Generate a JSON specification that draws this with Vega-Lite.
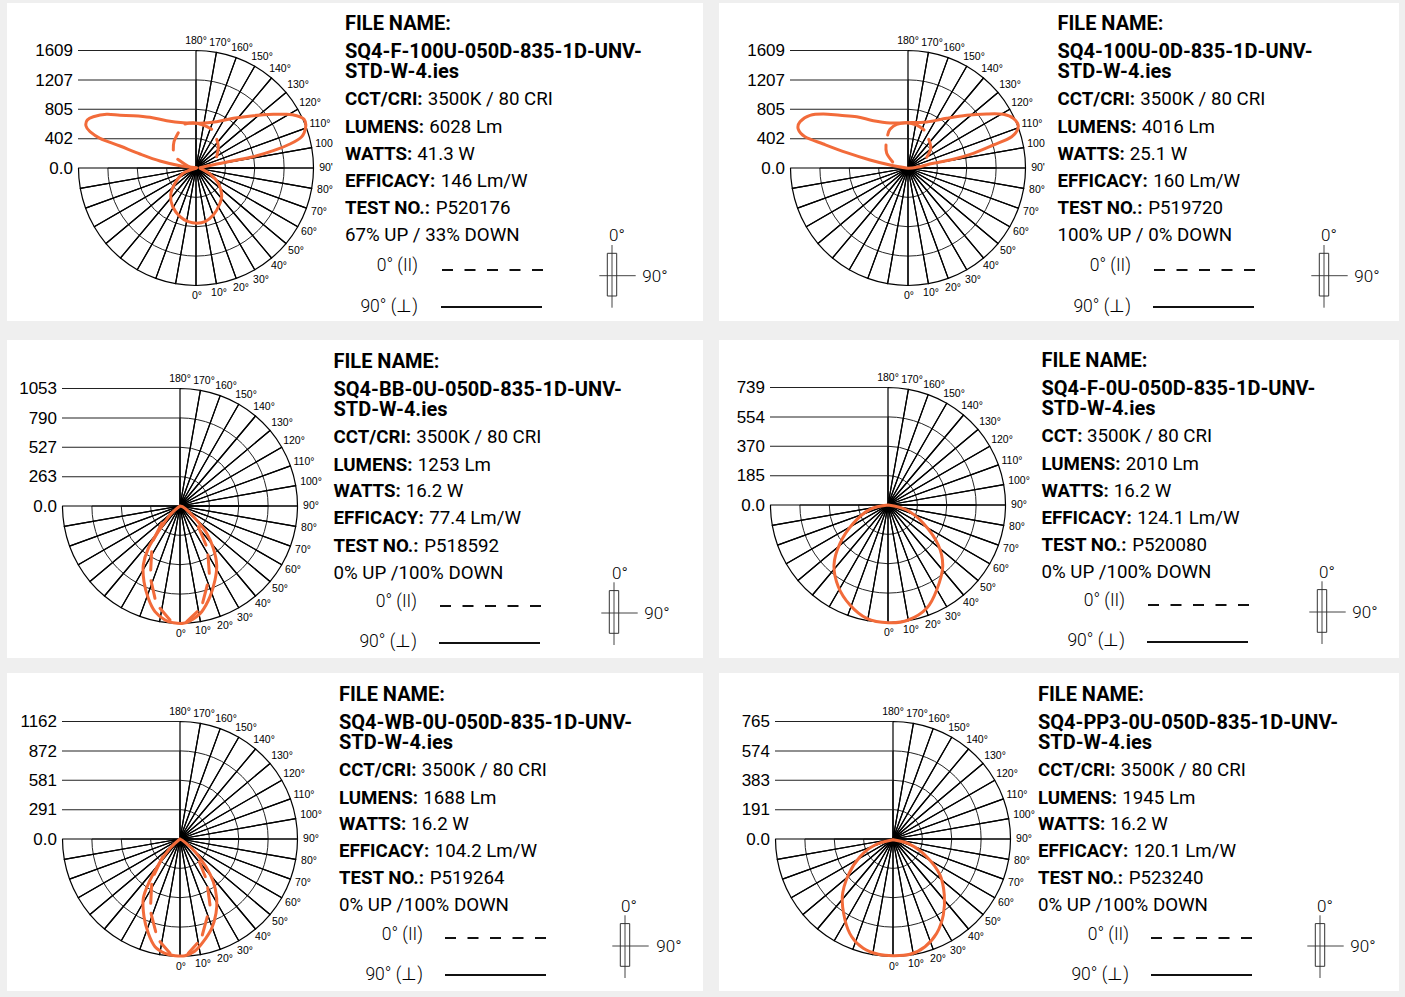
{"$schema":"https://vega.github.io/schema/vega-lite/v6.json","background":"#efefef","padding":{"left":7,"top":3,"right":6,"bottom":6},
"config":{"view":{"fill":"white","stroke":null},"axis":{"disable":true},"style":{
"head":{"font":"Roboto","fontSize":20,"fontWeight":700,"align":"left","baseline":"alphabetic","fill":"#111"},
"label":{"font":"Roboto","fontSize":18.7,"fontWeight":700,"align":"left","baseline":"alphabetic","fill":"#111"},
"value":{"font":"Roboto","fontSize":18.7,"fontWeight":400,"align":"left","baseline":"alphabetic","fill":"#222"},
"legendtext":{"font":"Roboto","fontSize":17.5,"fontWeight":300,"align":"right","baseline":"alphabetic","fill":"#444","dy":-1},
"symtext":{"font":"Roboto","fontSize":17,"fontWeight":300,"align":"center","baseline":"alphabetic","fill":"#444"},
"level":{"font":"Liberation Sans","fontSize":17,"align":"right","baseline":"middle","fill":"#111","dy":0.5},
"angle":{"font":"Liberation Sans","fontSize":10.5,"align":"center","baseline":"middle","fill":"#333"}}},
"datasets":{
"rings":[{"x":0,"y":0,"a":-90,"a2":90,"r":1},{"x":0,"y":0,"a":-90,"a2":90,"r":2},{"x":0,"y":0,"a":-90,"a2":90,"r":3},{"x":0,"y":0,"a":90,"a2":180,"r":1},{"x":0,"y":0,"a":90,"a2":180,"r":2},{"x":0,"y":0,"a":90,"a2":180,"r":3}],
"spokes":[{"x":0,"y":0,"a":-90,"a2":-80,"r":4},{"x":0,"y":0,"a":-80,"a2":-70,"r":4},{"x":0,"y":0,"a":-70,"a2":-60,"r":4},{"x":0,"y":0,"a":-60,"a2":-50,"r":4},{"x":0,"y":0,"a":-50,"a2":-40,"r":4},{"x":0,"y":0,"a":-40,"a2":-30,"r":4},{"x":0,"y":0,"a":-30,"a2":-20,"r":4},{"x":0,"y":0,"a":-20,"a2":-10,"r":4},{"x":0,"y":0,"a":-10,"a2":0,"r":4},{"x":0,"y":0,"a":0,"a2":10,"r":4},{"x":0,"y":0,"a":10,"a2":20,"r":4},{"x":0,"y":0,"a":20,"a2":30,"r":4},{"x":0,"y":0,"a":30,"a2":40,"r":4},{"x":0,"y":0,"a":40,"a2":50,"r":4},{"x":0,"y":0,"a":50,"a2":60,"r":4},{"x":0,"y":0,"a":60,"a2":70,"r":4},{"x":0,"y":0,"a":70,"a2":80,"r":4},{"x":0,"y":0,"a":80,"a2":90,"r":4},{"x":0,"y":0,"a":90,"a2":100,"r":4},{"x":0,"y":0,"a":100,"a2":110,"r":4},{"x":0,"y":0,"a":110,"a2":120,"r":4},{"x":0,"y":0,"a":120,"a2":130,"r":4},{"x":0,"y":0,"a":130,"a2":140,"r":4},{"x":0,"y":0,"a":140,"a2":150,"r":4},{"x":0,"y":0,"a":150,"a2":160,"r":4},{"x":0,"y":0,"a":160,"a2":170,"r":4},{"x":0,"y":0,"a":170,"a2":180,"r":4}],
"levels":[{"x":-118,"x2":0,"y":-117.5},{"x":-118,"x2":0,"y":-88},{"x":-118,"x2":0,"y":-58.7},{"x":-118,"x2":0,"y":-29.3}],
"angles":[{"x":0,"y":-127,"text":"180°","set":"all"},{"x":24,"y":-125,"text":"170°","set":"all"},{"x":46,"y":-120,"text":"160°","set":"all"},{"x":66,"y":-111,"text":"150°","set":"all"},{"x":84,"y":-99,"text":"140°","set":"all"},{"x":102,"y":-83,"text":"130°","set":"all"},{"x":114,"y":-65,"text":"120°","set":"all"},{"x":124,"y":-44,"text":"110°","set":"all"},{"x":128,"y":-24,"text":"100","set":"clip"},{"x":131,"y":-24,"text":"100°","set":"full"},{"x":130,"y":0,"text":"90'","set":"clip"},{"x":131,"y":0,"text":"90°","set":"full"},{"x":129,"y":22,"text":"80°","set":"all"},{"x":123,"y":44,"text":"70°","set":"all"},{"x":113,"y":64,"text":"60°","set":"all"},{"x":100,"y":83,"text":"50°","set":"all"},{"x":83,"y":98,"text":"40°","set":"all"},{"x":65,"y":112,"text":"30°","set":"all"},{"x":45,"y":120,"text":"20°","set":"all"},{"x":23,"y":125,"text":"10°","set":"all"},{"x":1,"y":128,"text":"0°","set":"all"}],
"p1":[
{"role":"level","x":-123,"y":-117.5,"text":"1609"},{"role":"level","x":-123,"y":-88,"text":"1207"},{"role":"level","x":-123,"y":-58.7,"text":"805"},{"role":"level","x":-123,"y":-29.3,"text":"402"},{"role":"level","x":-123,"y":0,"text":"0.0"},
{"role":"head","x":149,"y":-138,"text":"FILE NAME:"},{"role":"head","x":149,"y":-110,"text":"SQ4-F-100U-050D-835-1D-UNV-"},{"role":"head","x":149,"y":-90,"text":"STD-W-4.ies"},
{"role":"label","x":149,"y":-63,"text":"CCT/CRI:"},{"role":"value","x":231.7,"y":-63,"text":"3500K / 80 CRI"},
{"role":"label","x":149,"y":-35,"text":"LUMENS:"},{"role":"value","x":233.3,"y":-35,"text":"6028 Lm"},
{"role":"label","x":149,"y":-8,"text":"WATTS:"},{"role":"value","x":221.3,"y":-8,"text":"41.3 W"},
{"role":"label","x":149,"y":19,"text":"EFFICACY:"},{"role":"value","x":244.7,"y":19,"text":"146 Lm/W"},
{"role":"label","x":149,"y":46,"text":"TEST NO.:"},{"role":"value","x":239.7,"y":46,"text":"P520176"},
{"role":"value","x":149,"y":73,"text":"67% UP / 33% DOWN"},
{"role":"legend","x":222,"y":104,"text":"0° (II)"},{"role":"legend","x":222,"y":145,"text":"90° (⊥)"},{"role":"sym","x":421,"y":72.7,"text":"0°"},{"role":"sym","x":459,"y":113.7,"text":"90°"},
{"role":"r0","x":246,"x2":347,"y":102,"y2":102},{"role":"r90","x":245,"x2":346,"y":139,"y2":139},{"role":"cross","x":416,"x2":416,"y":77,"y2":139.7},{"role":"cross","x":403.3,"x2":439.7,"y":107.7,"y2":107.7},{"role":"box","x":411.3,"x2":420.7,"y":85.3,"y2":128},
{"role":"solid","s":"a","i":0,"x":0.7,"y":-0.3},{"role":"solid","s":"a","i":1,"x":-16,"y":-2.3},{"role":"solid","s":"a","i":2,"x":-36,"y":-7},{"role":"solid","s":"a","i":3,"x":-56,"y":-14},{"role":"solid","s":"a","i":4,"x":-76,"y":-22},{"role":"solid","s":"a","i":5,"x":-96,"y":-29.7},{"role":"solid","s":"a","i":6,"x":-106,"y":-36.3},{"role":"solid","s":"a","i":7,"x":-110,"y":-42},{"role":"solid","s":"a","i":8,"x":-108.7,"y":-48},{"role":"solid","s":"a","i":9,"x":-102.7,"y":-51.3},{"role":"solid","s":"a","i":10,"x":-89.3,"y":-53.7},{"role":"solid","s":"a","i":11,"x":-76,"y":-52.7},{"role":"solid","s":"a","i":12,"x":-62.7,"y":-52.3},{"role":"solid","s":"a","i":13,"x":-46,"y":-50.7},{"role":"solid","s":"a","i":14,"x":-29.3,"y":-47.3},{"role":"solid","s":"a","i":15,"x":-12.7,"y":-45.3},{"role":"solid","s":"a","i":16,"x":4,"y":-44.7},{"role":"solid","s":"a","i":17,"x":20.7,"y":-46.3},{"role":"solid","s":"a","i":18,"x":37.3,"y":-49.7},{"role":"solid","s":"a","i":19,"x":57.3,"y":-52.3},{"role":"solid","s":"a","i":20,"x":77.3,"y":-53.7},{"role":"solid","s":"a","i":21,"x":90.7,"y":-53.7},{"role":"solid","s":"a","i":22,"x":100.7,"y":-52.3},{"role":"solid","s":"a","i":23,"x":108,"y":-48.7},{"role":"solid","s":"a","i":24,"x":109.7,"y":-41.3},{"role":"solid","s":"a","i":25,"x":105.7,"y":-31.3},{"role":"solid","s":"a","i":26,"x":94,"y":-24},{"role":"solid","s":"a","i":27,"x":77.3,"y":-17.3},{"role":"solid","s":"a","i":28,"x":57.3,"y":-11.3},{"role":"solid","s":"a","i":29,"x":37.3,"y":-7.3},{"role":"solid","s":"a","i":30,"x":20.7,"y":-4},{"role":"solid","s":"a","i":31,"x":4,"y":-0.3},
{"role":"solid","s":"b","i":0,"x":0,"y":0.3},{"role":"solid","s":"b","i":1,"x":-12.7,"y":5.3},{"role":"solid","s":"b","i":2,"x":-21,"y":15.3},{"role":"solid","s":"b","i":3,"x":-25.3,"y":27},{"role":"solid","s":"b","i":4,"x":-23.3,"y":38.7},{"role":"solid","s":"b","i":5,"x":-16,"y":48.7},{"role":"solid","s":"b","i":6,"x":-7.7,"y":53.7},{"role":"solid","s":"b","i":7,"x":0.7,"y":55.3},{"role":"solid","s":"b","i":8,"x":9,"y":53.7},{"role":"solid","s":"b","i":9,"x":17.3,"y":47},{"role":"solid","s":"b","i":10,"x":23.3,"y":37},{"role":"solid","s":"b","i":11,"x":25.7,"y":27},{"role":"solid","s":"b","i":12,"x":22.3,"y":15.3},{"role":"solid","s":"b","i":13,"x":14,"y":6},{"role":"solid","s":"b","i":14,"x":4.3,"y":0.3},
{"role":"dash","s":"a","i":0,"x":15.7,"y":-38.7},{"role":"dash","s":"a","i":1,"x":7.3,"y":-43},{"role":"dash","s":"a","i":2,"x":-2.7,"y":-45.3},{"role":"dash","s":"a","i":3,"x":-11,"y":-44},
{"role":"dash","s":"b","i":0,"x":-17.7,"y":-35.3},{"role":"dash","s":"b","i":1,"x":-22,"y":-26.3},{"role":"dash","s":"b","i":2,"x":-22.7,"y":-18},
{"role":"dash","s":"c","i":0,"x":-18.3,"y":-8.7},{"role":"dash","s":"c","i":1,"x":-11,"y":-3.7},{"role":"dash","s":"c","i":2,"x":-4.3,"y":0.3},
{"role":"dash","s":"d","i":0,"x":20.7,"y":-28.7},{"role":"dash","s":"d","i":1,"x":22.3,"y":-21.3},{"role":"dash","s":"d","i":2,"x":20.7,"y":-11.3}],
"p2":[
{"role":"level","x":-123,"y":-117.5,"text":"1609"},{"role":"level","x":-123,"y":-88,"text":"1207"},{"role":"level","x":-123,"y":-58.7,"text":"805"},{"role":"level","x":-123,"y":-29.3,"text":"402"},{"role":"level","x":-123,"y":0,"text":"0.0"},
{"role":"head","x":149.5,"y":-138,"text":"FILE NAME:"},{"role":"head","x":149.5,"y":-110,"text":"SQ4-100U-0D-835-1D-UNV-"},{"role":"head","x":149.5,"y":-90,"text":"STD-W-4.ies"},
{"role":"label","x":149.5,"y":-63,"text":"CCT/CRI:"},{"role":"value","x":232.2,"y":-63,"text":"3500K / 80 CRI"},
{"role":"label","x":149.5,"y":-35,"text":"LUMENS:"},{"role":"value","x":233.8,"y":-35,"text":"4016 Lm"},
{"role":"label","x":149.5,"y":-8,"text":"WATTS:"},{"role":"value","x":221.8,"y":-8,"text":"25.1 W"},
{"role":"label","x":149.5,"y":19,"text":"EFFICACY:"},{"role":"value","x":245.2,"y":19,"text":"160 Lm/W"},
{"role":"label","x":149.5,"y":46,"text":"TEST NO.:"},{"role":"value","x":240.2,"y":46,"text":"P519720"},
{"role":"value","x":149.5,"y":73,"text":"100% UP / 0% DOWN"},
{"role":"legend","x":223,"y":104,"text":"0° (II)"},{"role":"legend","x":223,"y":145,"text":"90° (⊥)"},{"role":"sym","x":421,"y":72.7,"text":"0°"},{"role":"sym","x":459,"y":113.7,"text":"90°"},
{"role":"r0","x":246,"x2":347,"y":102,"y2":102},{"role":"r90","x":245,"x2":346,"y":139,"y2":139},{"role":"cross","x":416,"x2":416,"y":77,"y2":139.7},{"role":"cross","x":403.3,"x2":439.7,"y":107.7,"y2":107.7},{"role":"box","x":411.3,"x2":420.7,"y":85.3,"y2":128},
{"role":"solid","s":"a","i":0,"x":0,"y":0.3},{"role":"solid","s":"a","i":1,"x":-18,"y":-3},{"role":"solid","s":"a","i":2,"x":-38,"y":-8},{"role":"solid","s":"a","i":3,"x":-61.3,"y":-15.3},{"role":"solid","s":"a","i":4,"x":-84.7,"y":-24},{"role":"solid","s":"a","i":5,"x":-103,"y":-31.3},{"role":"solid","s":"a","i":6,"x":-109.7,"y":-38.7},{"role":"solid","s":"a","i":7,"x":-108,"y":-46.3},{"role":"solid","s":"a","i":8,"x":-98,"y":-52.7},{"role":"solid","s":"a","i":9,"x":-84.7,"y":-54},{"role":"solid","s":"a","i":10,"x":-68,"y":-52.7},{"role":"solid","s":"a","i":11,"x":-51.3,"y":-51.3},{"role":"solid","s":"a","i":12,"x":-34.7,"y":-47.3},{"role":"solid","s":"a","i":13,"x":-18,"y":-45},{"role":"solid","s":"a","i":14,"x":-1.3,"y":-45.3},{"role":"solid","s":"a","i":15,"x":18.7,"y":-46},{"role":"solid","s":"a","i":16,"x":38.7,"y":-49.7},{"role":"solid","s":"a","i":17,"x":58.7,"y":-52.7},{"role":"solid","s":"a","i":18,"x":78.7,"y":-54},{"role":"solid","s":"a","i":19,"x":95.3,"y":-53.7},{"role":"solid","s":"a","i":20,"x":105.3,"y":-49.7},{"role":"solid","s":"a","i":21,"x":110.3,"y":-41.3},{"role":"solid","s":"a","i":22,"x":103.7,"y":-31.3},{"role":"solid","s":"a","i":23,"x":85.3,"y":-23},{"role":"solid","s":"a","i":24,"x":65.3,"y":-14.7},{"role":"solid","s":"a","i":25,"x":45.3,"y":-8.7},{"role":"solid","s":"a","i":26,"x":25.3,"y":-4.7},{"role":"solid","s":"a","i":27,"x":8.7,"y":-0.7},{"role":"solid","s":"a","i":28,"x":0,"y":0.3},
{"role":"dash","s":"a","i":0,"x":16,"y":-38},{"role":"dash","s":"a","i":1,"x":8.7,"y":-43},{"role":"dash","s":"a","i":2,"x":-1.3,"y":-45.3},{"role":"dash","s":"a","i":3,"x":-11.3,"y":-43.7},{"role":"dash","s":"a","i":4,"x":-18,"y":-38.7},{"role":"dash","s":"a","i":5,"x":-20.3,"y":-33},
{"role":"dash","s":"b","i":0,"x":-22,"y":-23},{"role":"dash","s":"b","i":1,"x":-21.3,"y":-14.7},{"role":"dash","s":"b","i":2,"x":-15.3,"y":-6},
{"role":"dash","s":"c","i":0,"x":20.7,"y":-28.7},{"role":"dash","s":"c","i":1,"x":22.7,"y":-19.7},{"role":"dash","s":"c","i":2,"x":18.7,"y":-10.7}],
"p3":[
{"role":"level","x":-123,"y":-117.5,"text":"1053"},{"role":"level","x":-123,"y":-88,"text":"790"},{"role":"level","x":-123,"y":-58.7,"text":"527"},{"role":"level","x":-123,"y":-29.3,"text":"263"},{"role":"level","x":-123,"y":0,"text":"0.0"},
{"role":"head","x":153.5,"y":-138,"text":"FILE NAME:"},{"role":"head","x":153.5,"y":-110,"text":"SQ4-BB-0U-050D-835-1D-UNV-"},{"role":"head","x":153.5,"y":-90,"text":"STD-W-4.ies"},
{"role":"label","x":153.5,"y":-63,"text":"CCT/CRI:"},{"role":"value","x":236.2,"y":-63,"text":"3500K / 80 CRI"},
{"role":"label","x":153.5,"y":-35,"text":"LUMENS:"},{"role":"value","x":237.8,"y":-35,"text":"1253 Lm"},
{"role":"label","x":153.5,"y":-9,"text":"WATTS:"},{"role":"value","x":225.8,"y":-9,"text":"16.2 W"},
{"role":"label","x":153.5,"y":18,"text":"EFFICACY:"},{"role":"value","x":249.2,"y":18,"text":"77.4 Lm/W"},
{"role":"label","x":153.5,"y":46,"text":"TEST NO.:"},{"role":"value","x":244.2,"y":46,"text":"P518592"},
{"role":"value","x":153.5,"y":73,"text":"0% UP /100% DOWN"},
{"role":"legend","x":237,"y":102,"text":"0° (II)"},{"role":"legend","x":237,"y":142,"text":"90° (⊥)"},{"role":"sym","x":440,"y":73,"text":"0°"},{"role":"sym","x":477,"y":113,"text":"90°"},
{"role":"r0","x":260,"x2":362,"y":100,"y2":100},{"role":"r90","x":259,"x2":360,"y":137,"y2":137},{"role":"cross","x":434,"x2":434,"y":76.3,"y2":139},{"role":"cross","x":421.3,"x2":457.7,"y":107,"y2":107},{"role":"box","x":429.3,"x2":438.7,"y":84.6,"y2":127.3},
{"role":"solid","s":"a","i":0,"x":0,"y":0},{"role":"solid","s":"a","i":1,"x":-10,"y":9},{"role":"solid","s":"a","i":2,"x":-21.7,"y":25.7},{"role":"solid","s":"a","i":3,"x":-31.7,"y":42.3},{"role":"solid","s":"a","i":4,"x":-36.7,"y":59},{"role":"solid","s":"a","i":5,"x":-36,"y":75.7},{"role":"solid","s":"a","i":6,"x":-31.7,"y":92.3},{"role":"solid","s":"a","i":7,"x":-25,"y":105.7},{"role":"solid","s":"a","i":8,"x":-15,"y":114},{"role":"solid","s":"a","i":9,"x":-6.7,"y":116.7},{"role":"solid","s":"a","i":10,"x":3.3,"y":117.3},{"role":"solid","s":"a","i":11,"x":11.7,"y":114},{"role":"solid","s":"a","i":12,"x":21.7,"y":105.7},{"role":"solid","s":"a","i":13,"x":30,"y":90.7},{"role":"solid","s":"a","i":14,"x":35,"y":74},{"role":"solid","s":"a","i":15,"x":36.7,"y":59},{"role":"solid","s":"a","i":16,"x":33.3,"y":42.3},{"role":"solid","s":"a","i":17,"x":26.7,"y":27.3},{"role":"solid","s":"a","i":18,"x":15,"y":12.3},{"role":"solid","s":"a","i":19,"x":5,"y":2.3},{"role":"solid","s":"a","i":20,"x":0,"y":0},
{"role":"dash","s":"a","i":0,"x":-18.3,"y":17.3},{"role":"dash","s":"a","i":1,"x":-26.7,"y":34},
{"role":"dash","s":"b","i":0,"x":-28.3,"y":45.7},{"role":"dash","s":"b","i":1,"x":-29.3,"y":64},
{"role":"dash","s":"c","i":0,"x":-29,"y":74.7},{"role":"dash","s":"c","i":1,"x":-25,"y":92.3},
{"role":"dash","s":"d","i":0,"x":-20,"y":102.3},{"role":"dash","s":"d","i":1,"x":-10,"y":114},
{"role":"dash","s":"e","i":0,"x":18.3,"y":20.7},{"role":"dash","s":"e","i":1,"x":26,"y":39},
{"role":"dash","s":"f","i":0,"x":28,"y":49},{"role":"dash","s":"f","i":1,"x":29.3,"y":67.3},
{"role":"dash","s":"g","i":0,"x":27.3,"y":79},{"role":"dash","s":"g","i":1,"x":22.7,"y":96.7},
{"role":"dash","s":"h","i":0,"x":17.3,"y":105.7},{"role":"dash","s":"h","i":1,"x":6.7,"y":115.7}],
"p4":[
{"role":"level","x":-123,"y":-117.5,"text":"739"},{"role":"level","x":-123,"y":-88,"text":"554"},{"role":"level","x":-123,"y":-58.7,"text":"370"},{"role":"level","x":-123,"y":-29.3,"text":"185"},{"role":"level","x":-123,"y":0,"text":"0.0"},
{"role":"head","x":153.5,"y":-138,"text":"FILE NAME:"},{"role":"head","x":153.5,"y":-110,"text":"SQ4-F-0U-050D-835-1D-UNV-"},{"role":"head","x":153.5,"y":-90,"text":"STD-W-4.ies"},
{"role":"label","x":153.5,"y":-63,"text":"CCT:"},{"role":"value","x":199,"y":-63,"text":"3500K / 80 CRI"},
{"role":"label","x":153.5,"y":-35,"text":"LUMENS:"},{"role":"value","x":237.8,"y":-35,"text":"2010 Lm"},
{"role":"label","x":153.5,"y":-8,"text":"WATTS:"},{"role":"value","x":225.8,"y":-8,"text":"16.2 W"},
{"role":"label","x":153.5,"y":19,"text":"EFFICACY:"},{"role":"value","x":249.2,"y":19,"text":"124.1 Lm/W"},
{"role":"label","x":153.5,"y":46,"text":"TEST NO.:"},{"role":"value","x":244.2,"y":46,"text":"P520080"},
{"role":"value","x":153.5,"y":73,"text":"0% UP /100% DOWN"},
{"role":"legend","x":237,"y":102,"text":"0° (II)"},{"role":"legend","x":237,"y":142,"text":"90° (⊥)"},{"role":"sym","x":439,"y":73,"text":"0°"},{"role":"sym","x":477,"y":113,"text":"90°"},
{"role":"r0","x":260,"x2":362,"y":100,"y2":100},{"role":"r90","x":259,"x2":360,"y":137,"y2":137},{"role":"cross","x":434,"x2":434,"y":76.3,"y2":139},{"role":"cross","x":421.3,"x2":457.7,"y":107,"y2":107},{"role":"box","x":429.3,"x2":438.7,"y":84.6,"y2":127.3},
{"role":"solid","s":"a","i":0,"x":0,"y":0},{"role":"solid","s":"a","i":1,"x":-18,"y":4.3},{"role":"solid","s":"a","i":2,"x":-34.7,"y":18.3},{"role":"solid","s":"a","i":3,"x":-48,"y":38.3},{"role":"solid","s":"a","i":4,"x":-54,"y":60},{"role":"solid","s":"a","i":5,"x":-49.7,"y":81.7},{"role":"solid","s":"a","i":6,"x":-38,"y":100},{"role":"solid","s":"a","i":7,"x":-21.3,"y":113.3},{"role":"solid","s":"a","i":8,"x":0.3,"y":117.7},{"role":"solid","s":"a","i":9,"x":20.3,"y":115},{"role":"solid","s":"a","i":10,"x":38.7,"y":103.3},{"role":"solid","s":"a","i":11,"x":48.7,"y":85},{"role":"solid","s":"a","i":12,"x":54.7,"y":61.7},{"role":"solid","s":"a","i":13,"x":50.3,"y":40},{"role":"solid","s":"a","i":14,"x":35.3,"y":18.3},{"role":"solid","s":"a","i":15,"x":18.7,"y":5},{"role":"solid","s":"a","i":16,"x":0,"y":0}],
"p5":[
{"role":"level","x":-123,"y":-117.5,"text":"1162"},{"role":"level","x":-123,"y":-88,"text":"872"},{"role":"level","x":-123,"y":-58.7,"text":"581"},{"role":"level","x":-123,"y":-29.3,"text":"291"},{"role":"level","x":-123,"y":0,"text":"0.0"},
{"role":"head","x":159,"y":-138,"text":"FILE NAME:"},{"role":"head","x":159,"y":-110,"text":"SQ4-WB-0U-050D-835-1D-UNV-"},{"role":"head","x":159,"y":-90,"text":"STD-W-4.ies"},
{"role":"label","x":159,"y":-63,"text":"CCT/CRI:"},{"role":"value","x":241.7,"y":-63,"text":"3500K / 80 CRI"},
{"role":"label","x":159,"y":-35,"text":"LUMENS:"},{"role":"value","x":243.3,"y":-35,"text":"1688 Lm"},
{"role":"label","x":159,"y":-9,"text":"WATTS:"},{"role":"value","x":231.3,"y":-9,"text":"16.2 W"},
{"role":"label","x":159,"y":18,"text":"EFFICACY:"},{"role":"value","x":254.7,"y":18,"text":"104.2 Lm/W"},
{"role":"label","x":159,"y":45,"text":"TEST NO.:"},{"role":"value","x":249.7,"y":45,"text":"P519264"},
{"role":"value","x":159,"y":72,"text":"0% UP /100% DOWN"},
{"role":"legend","x":243,"y":102,"text":"0° (II)"},{"role":"legend","x":243,"y":142,"text":"90° (⊥)"},{"role":"sym","x":449,"y":73,"text":"0°"},{"role":"sym","x":489,"y":113,"text":"90°"},
{"role":"r0","x":265,"x2":367,"y":99,"y2":99},{"role":"r90","x":265,"x2":366,"y":136,"y2":136},{"role":"cross","x":445,"x2":445,"y":76.3,"y2":139},{"role":"cross","x":432.3,"x2":468.7,"y":107,"y2":107},{"role":"box","x":440.3,"x2":449.7,"y":84.6,"y2":127.3},
{"role":"solid","s":"a","i":0,"x":0,"y":0},{"role":"solid","s":"a","i":1,"x":-10,"y":9.3},{"role":"solid","s":"a","i":2,"x":-20.7,"y":24.3},{"role":"solid","s":"a","i":3,"x":-30.7,"y":42.7},{"role":"solid","s":"a","i":4,"x":-36.7,"y":59.3},{"role":"solid","s":"a","i":5,"x":-36,"y":77.7},{"role":"solid","s":"a","i":6,"x":-31.7,"y":94.3},{"role":"solid","s":"a","i":7,"x":-25,"y":107.7},{"role":"solid","s":"a","i":8,"x":-15,"y":114.3},{"role":"solid","s":"a","i":9,"x":-5,"y":116.7},{"role":"solid","s":"a","i":10,"x":5,"y":116.7},{"role":"solid","s":"a","i":11,"x":15,"y":112},{"role":"solid","s":"a","i":12,"x":23.3,"y":102.7},{"role":"solid","s":"a","i":13,"x":31.7,"y":89.3},{"role":"solid","s":"a","i":14,"x":36,"y":74.3},{"role":"solid","s":"a","i":15,"x":36.7,"y":59.3},{"role":"solid","s":"a","i":16,"x":33.3,"y":42.7},{"role":"solid","s":"a","i":17,"x":26,"y":27.7},{"role":"solid","s":"a","i":18,"x":15,"y":12.7},{"role":"solid","s":"a","i":19,"x":5,"y":3.3},{"role":"solid","s":"a","i":20,"x":0,"y":0},
{"role":"dash","s":"a","i":0,"x":-17.3,"y":17.7},{"role":"dash","s":"a","i":1,"x":-25.7,"y":35.3},
{"role":"dash","s":"b","i":0,"x":-28.3,"y":45.3},{"role":"dash","s":"b","i":1,"x":-29.3,"y":64.3},
{"role":"dash","s":"c","i":0,"x":-29,"y":74.3},{"role":"dash","s":"c","i":1,"x":-24.3,"y":92.7},
{"role":"dash","s":"d","i":0,"x":-20,"y":102.7},{"role":"dash","s":"d","i":1,"x":-10,"y":114.3},
{"role":"dash","s":"e","i":0,"x":19.3,"y":22.7},{"role":"dash","s":"e","i":1,"x":25.3,"y":37.7},
{"role":"dash","s":"f","i":0,"x":27.7,"y":48.7},{"role":"dash","s":"f","i":1,"x":30,"y":66},
{"role":"dash","s":"g","i":0,"x":27.3,"y":77.7},{"role":"dash","s":"g","i":1,"x":22.3,"y":96},
{"role":"dash","s":"h","i":0,"x":17.3,"y":104.3},{"role":"dash","s":"h","i":1,"x":8.3,"y":114.3}],
"p6":[
{"role":"level","x":-123,"y":-117.5,"text":"765"},{"role":"level","x":-123,"y":-88,"text":"574"},{"role":"level","x":-123,"y":-58.7,"text":"383"},{"role":"level","x":-123,"y":-29.3,"text":"191"},{"role":"level","x":-123,"y":0,"text":"0.0"},
{"role":"head","x":145,"y":-138,"text":"FILE NAME:"},{"role":"head","x":145,"y":-110,"text":"SQ4-PP3-0U-050D-835-1D-UNV-"},{"role":"head","x":145,"y":-90,"text":"STD-W-4.ies"},
{"role":"label","x":145,"y":-63,"text":"CCT/CRI:"},{"role":"value","x":227.7,"y":-63,"text":"3500K / 80 CRI"},
{"role":"label","x":145,"y":-35,"text":"LUMENS:"},{"role":"value","x":229.3,"y":-35,"text":"1945 Lm"},
{"role":"label","x":145,"y":-9,"text":"WATTS:"},{"role":"value","x":217.3,"y":-9,"text":"16.2 W"},
{"role":"label","x":145,"y":18,"text":"EFFICACY:"},{"role":"value","x":240.7,"y":18,"text":"120.1 Lm/W"},
{"role":"label","x":145,"y":45,"text":"TEST NO.:"},{"role":"value","x":235.7,"y":45,"text":"P523240"},
{"role":"value","x":145,"y":72,"text":"0% UP /100% DOWN"},
{"role":"legend","x":236,"y":102,"text":"0° (II)"},{"role":"legend","x":236,"y":142,"text":"90° (⊥)"},{"role":"sym","x":432,"y":73,"text":"0°"},{"role":"sym","x":470,"y":113,"text":"90°"},
{"role":"r0","x":258,"x2":359,"y":99,"y2":99},{"role":"r90","x":258,"x2":359,"y":136,"y2":136},{"role":"cross","x":427,"x2":427,"y":76.3,"y2":139},{"role":"cross","x":414.3,"x2":450.7,"y":107,"y2":107},{"role":"box","x":422.3,"x2":431.7,"y":84.6,"y2":127.3},
{"role":"solid","s":"a","i":0,"x":0,"y":0.7},{"role":"solid","s":"a","i":1,"x":-18,"y":6},{"role":"solid","s":"a","i":2,"x":-33,"y":17.7},{"role":"solid","s":"a","i":3,"x":-44.7,"y":36},{"role":"solid","s":"a","i":4,"x":-50.7,"y":57.7},{"role":"solid","s":"a","i":5,"x":-48,"y":81},{"role":"solid","s":"a","i":6,"x":-41.3,"y":97.7},{"role":"solid","s":"a","i":7,"x":-29.7,"y":109.3},{"role":"solid","s":"a","i":8,"x":-14.7,"y":115.3},{"role":"solid","s":"a","i":9,"x":0.3,"y":116.7},{"role":"solid","s":"a","i":10,"x":17,"y":115.3},{"role":"solid","s":"a","i":11,"x":32,"y":107.7},{"role":"solid","s":"a","i":12,"x":43.7,"y":94.3},{"role":"solid","s":"a","i":13,"x":50.3,"y":76},{"role":"solid","s":"a","i":14,"x":51.3,"y":56},{"role":"solid","s":"a","i":15,"x":47,"y":36},{"role":"solid","s":"a","i":16,"x":33.7,"y":17.7},{"role":"solid","s":"a","i":17,"x":17,"y":5.3},{"role":"solid","s":"a","i":18,"x":0,"y":0.7}]
},
"vconcat":[{"spacing":19,"vconcat":[
{"spacing":16,"hconcat":[
{"width":696,"height":318,"encoding":{"x":{"field":"x","type":"quantitative","axis":null,"scale":{"domain":[-189,507],"nice":false,"zero":false}},"y":{"field":"y","type":"quantitative","axis":null,"scale":{"domain":[153,-165],"nice":false,"zero":false}}},"layer":[
{"data":{"name":"rings"},"mark":{"type":"arc","filled":false,"color":"#222","strokeWidth":1},"encoding":{"theta":{"field":"a","type":"quantitative","stack":null,"scale":{"domain":[-180,180],"range":[6.283185,0]}},"theta2":{"field":"a2"},"radius":{"field":"r","type":"quantitative","scale":{"type":"linear","domain":[0,4],"range":[0,117.5],"zero":true}}}},
{"data":{"name":"spokes"},"mark":{"type":"arc","filled":false,"color":"#000","strokeWidth":1.2,"strokeJoin":"round"},"encoding":{"theta":{"field":"a","type":"quantitative","stack":null,"scale":{"domain":[-180,180],"range":[6.283185,0]}},"theta2":{"field":"a2"},"radius":{"field":"r","type":"quantitative","scale":{"type":"linear","domain":[0,4],"range":[0,117.5],"zero":true}}}},
{"data":{"name":"levels"},"mark":{"type":"rule","color":"#222","strokeWidth":1.1},"encoding":{"x2":{"field":"x2"}}},
{"data":{"name":"angles"},"transform":[{"filter":"datum.set!='full'"}],"mark":{"type":"text","style":"angle"},"encoding":{"text":{"field":"text"}}},
{"data":{"name":"p1"},"transform":[{"filter":"datum.role=='level'"}],"mark":{"type":"text","style":"level"},"encoding":{"text":{"field":"text"}}},
{"data":{"name":"p1"},"transform":[{"filter":"datum.role=='solid'"}],"mark":{"type":"line","color":"#f26b3a","strokeWidth":3,"interpolate":"cardinal","strokeCap":"round"},"encoding":{"detail":{"field":"s"},"order":{"field":"i"}}},
{"data":{"name":"p1"},"transform":[{"filter":"datum.role=='dash'"}],"mark":{"type":"line","color":"#f26b3a","strokeWidth":3,"interpolate":"cardinal","strokeCap":"round"},"encoding":{"detail":{"field":"s"},"order":{"field":"i"}}},
{"data":{"name":"p1"},"transform":[{"filter":"datum.role=='head'"}],"mark":{"type":"text","style":"head"},"encoding":{"text":{"field":"text"}}},
{"data":{"name":"p1"},"transform":[{"filter":"datum.role=='label'"}],"mark":{"type":"text","style":"label"},"encoding":{"text":{"field":"text"}}},
{"data":{"name":"p1"},"transform":[{"filter":"datum.role=='value'"}],"mark":{"type":"text","style":"value"},"encoding":{"text":{"field":"text"}}},
{"data":{"name":"p1"},"transform":[{"filter":"datum.role=='legend'"}],"mark":{"type":"text","style":"legendtext"},"encoding":{"text":{"field":"text"}}},
{"data":{"name":"p1"},"transform":[{"filter":"datum.role=='sym'"}],"mark":{"type":"text","style":"symtext"},"encoding":{"text":{"field":"text"}}},
{"data":{"name":"p1"},"transform":[{"filter":"datum.role=='r0'"}],"mark":{"type":"rule","color":"#111","strokeWidth":2,"strokeDash":[11,11.5]},"encoding":{"x2":{"field":"x2"},"y2":{"field":"y2"}}},
{"data":{"name":"p1"},"transform":[{"filter":"datum.role=='r90'"}],"mark":{"type":"rule","color":"#111","strokeWidth":2},"encoding":{"x2":{"field":"x2"},"y2":{"field":"y2"}}},
{"data":{"name":"p1"},"transform":[{"filter":"datum.role=='cross'"}],"mark":{"type":"rule","color":"#444","strokeWidth":1},"encoding":{"x2":{"field":"x2"},"y2":{"field":"y2"}}},
{"data":{"name":"p1"},"transform":[{"filter":"datum.role=='box'"}],"mark":{"type":"rect","fillOpacity":0,"stroke":"#333","strokeWidth":1},"encoding":{"x2":{"field":"x2"},"y2":{"field":"y2"}}}]},
{"width":680,"height":318,"encoding":{"x":{"field":"x","type":"quantitative","axis":null,"scale":{"domain":[-189,491],"nice":false,"zero":false}},"y":{"field":"y","type":"quantitative","axis":null,"scale":{"domain":[153,-165],"nice":false,"zero":false}}},"layer":[
{"data":{"name":"rings"},"mark":{"type":"arc","filled":false,"color":"#222","strokeWidth":1},"encoding":{"theta":{"field":"a","type":"quantitative","stack":null,"scale":{"domain":[-180,180],"range":[6.283185,0]}},"theta2":{"field":"a2"},"radius":{"field":"r","type":"quantitative","scale":{"type":"linear","domain":[0,4],"range":[0,117.5],"zero":true}}}},
{"data":{"name":"spokes"},"mark":{"type":"arc","filled":false,"color":"#000","strokeWidth":1.2,"strokeJoin":"round"},"encoding":{"theta":{"field":"a","type":"quantitative","stack":null,"scale":{"domain":[-180,180],"range":[6.283185,0]}},"theta2":{"field":"a2"},"radius":{"field":"r","type":"quantitative","scale":{"type":"linear","domain":[0,4],"range":[0,117.5],"zero":true}}}},
{"data":{"name":"levels"},"mark":{"type":"rule","color":"#222","strokeWidth":1.1},"encoding":{"x2":{"field":"x2"}}},
{"data":{"name":"angles"},"transform":[{"filter":"datum.set!='full'"}],"mark":{"type":"text","style":"angle"},"encoding":{"text":{"field":"text"}}},
{"data":{"name":"p2"},"transform":[{"filter":"datum.role=='level'"}],"mark":{"type":"text","style":"level"},"encoding":{"text":{"field":"text"}}},
{"data":{"name":"p2"},"transform":[{"filter":"datum.role=='solid'"}],"mark":{"type":"line","color":"#f26b3a","strokeWidth":3,"interpolate":"cardinal","strokeCap":"round"},"encoding":{"detail":{"field":"s"},"order":{"field":"i"}}},
{"data":{"name":"p2"},"transform":[{"filter":"datum.role=='dash'"}],"mark":{"type":"line","color":"#f26b3a","strokeWidth":3,"interpolate":"cardinal","strokeCap":"round"},"encoding":{"detail":{"field":"s"},"order":{"field":"i"}}},
{"data":{"name":"p2"},"transform":[{"filter":"datum.role=='head'"}],"mark":{"type":"text","style":"head"},"encoding":{"text":{"field":"text"}}},
{"data":{"name":"p2"},"transform":[{"filter":"datum.role=='label'"}],"mark":{"type":"text","style":"label"},"encoding":{"text":{"field":"text"}}},
{"data":{"name":"p2"},"transform":[{"filter":"datum.role=='value'"}],"mark":{"type":"text","style":"value"},"encoding":{"text":{"field":"text"}}},
{"data":{"name":"p2"},"transform":[{"filter":"datum.role=='legend'"}],"mark":{"type":"text","style":"legendtext"},"encoding":{"text":{"field":"text"}}},
{"data":{"name":"p2"},"transform":[{"filter":"datum.role=='sym'"}],"mark":{"type":"text","style":"symtext"},"encoding":{"text":{"field":"text"}}},
{"data":{"name":"p2"},"transform":[{"filter":"datum.role=='r0'"}],"mark":{"type":"rule","color":"#111","strokeWidth":2,"strokeDash":[11,11.5]},"encoding":{"x2":{"field":"x2"},"y2":{"field":"y2"}}},
{"data":{"name":"p2"},"transform":[{"filter":"datum.role=='r90'"}],"mark":{"type":"rule","color":"#111","strokeWidth":2},"encoding":{"x2":{"field":"x2"},"y2":{"field":"y2"}}},
{"data":{"name":"p2"},"transform":[{"filter":"datum.role=='cross'"}],"mark":{"type":"rule","color":"#444","strokeWidth":1},"encoding":{"x2":{"field":"x2"},"y2":{"field":"y2"}}},
{"data":{"name":"p2"},"transform":[{"filter":"datum.role=='box'"}],"mark":{"type":"rect","fillOpacity":0,"stroke":"#333","strokeWidth":1},"encoding":{"x2":{"field":"x2"},"y2":{"field":"y2"}}}]}]},
{"spacing":16,"hconcat":[
{"width":696,"height":318,"encoding":{"x":{"field":"x","type":"quantitative","axis":null,"scale":{"domain":[-173,523],"nice":false,"zero":false}},"y":{"field":"y","type":"quantitative","axis":null,"scale":{"domain":[152,-166],"nice":false,"zero":false}}},"layer":[
{"data":{"name":"rings"},"mark":{"type":"arc","filled":false,"color":"#222","strokeWidth":1},"encoding":{"theta":{"field":"a","type":"quantitative","stack":null,"scale":{"domain":[-180,180],"range":[6.283185,0]}},"theta2":{"field":"a2"},"radius":{"field":"r","type":"quantitative","scale":{"type":"linear","domain":[0,4],"range":[0,117.5],"zero":true}}}},
{"data":{"name":"spokes"},"mark":{"type":"arc","filled":false,"color":"#000","strokeWidth":1.2,"strokeJoin":"round"},"encoding":{"theta":{"field":"a","type":"quantitative","stack":null,"scale":{"domain":[-180,180],"range":[6.283185,0]}},"theta2":{"field":"a2"},"radius":{"field":"r","type":"quantitative","scale":{"type":"linear","domain":[0,4],"range":[0,117.5],"zero":true}}}},
{"data":{"name":"levels"},"mark":{"type":"rule","color":"#222","strokeWidth":1.1},"encoding":{"x2":{"field":"x2"}}},
{"data":{"name":"angles"},"transform":[{"filter":"datum.set!='clip'"}],"mark":{"type":"text","style":"angle"},"encoding":{"text":{"field":"text"}}},
{"data":{"name":"p3"},"transform":[{"filter":"datum.role=='level'"}],"mark":{"type":"text","style":"level"},"encoding":{"text":{"field":"text"}}},
{"data":{"name":"p3"},"transform":[{"filter":"datum.role=='solid'"}],"mark":{"type":"line","color":"#f26b3a","strokeWidth":3,"interpolate":"cardinal","strokeCap":"round"},"encoding":{"detail":{"field":"s"},"order":{"field":"i"}}},
{"data":{"name":"p3"},"transform":[{"filter":"datum.role=='dash'"}],"mark":{"type":"line","color":"#f26b3a","strokeWidth":3,"interpolate":"cardinal","strokeCap":"round"},"encoding":{"detail":{"field":"s"},"order":{"field":"i"}}},
{"data":{"name":"p3"},"transform":[{"filter":"datum.role=='head'"}],"mark":{"type":"text","style":"head"},"encoding":{"text":{"field":"text"}}},
{"data":{"name":"p3"},"transform":[{"filter":"datum.role=='label'"}],"mark":{"type":"text","style":"label"},"encoding":{"text":{"field":"text"}}},
{"data":{"name":"p3"},"transform":[{"filter":"datum.role=='value'"}],"mark":{"type":"text","style":"value"},"encoding":{"text":{"field":"text"}}},
{"data":{"name":"p3"},"transform":[{"filter":"datum.role=='legend'"}],"mark":{"type":"text","style":"legendtext"},"encoding":{"text":{"field":"text"}}},
{"data":{"name":"p3"},"transform":[{"filter":"datum.role=='sym'"}],"mark":{"type":"text","style":"symtext"},"encoding":{"text":{"field":"text"}}},
{"data":{"name":"p3"},"transform":[{"filter":"datum.role=='r0'"}],"mark":{"type":"rule","color":"#111","strokeWidth":2,"strokeDash":[11,11.5]},"encoding":{"x2":{"field":"x2"},"y2":{"field":"y2"}}},
{"data":{"name":"p3"},"transform":[{"filter":"datum.role=='r90'"}],"mark":{"type":"rule","color":"#111","strokeWidth":2},"encoding":{"x2":{"field":"x2"},"y2":{"field":"y2"}}},
{"data":{"name":"p3"},"transform":[{"filter":"datum.role=='cross'"}],"mark":{"type":"rule","color":"#444","strokeWidth":1},"encoding":{"x2":{"field":"x2"},"y2":{"field":"y2"}}},
{"data":{"name":"p3"},"transform":[{"filter":"datum.role=='box'"}],"mark":{"type":"rect","fillOpacity":0,"stroke":"#333","strokeWidth":1},"encoding":{"x2":{"field":"x2"},"y2":{"field":"y2"}}}]},
{"width":680,"height":318,"encoding":{"x":{"field":"x","type":"quantitative","axis":null,"scale":{"domain":[-169,511],"nice":false,"zero":false}},"y":{"field":"y","type":"quantitative","axis":null,"scale":{"domain":[153,-165],"nice":false,"zero":false}}},"layer":[
{"data":{"name":"rings"},"mark":{"type":"arc","filled":false,"color":"#222","strokeWidth":1},"encoding":{"theta":{"field":"a","type":"quantitative","stack":null,"scale":{"domain":[-180,180],"range":[6.283185,0]}},"theta2":{"field":"a2"},"radius":{"field":"r","type":"quantitative","scale":{"type":"linear","domain":[0,4],"range":[0,117.5],"zero":true}}}},
{"data":{"name":"spokes"},"mark":{"type":"arc","filled":false,"color":"#000","strokeWidth":1.2,"strokeJoin":"round"},"encoding":{"theta":{"field":"a","type":"quantitative","stack":null,"scale":{"domain":[-180,180],"range":[6.283185,0]}},"theta2":{"field":"a2"},"radius":{"field":"r","type":"quantitative","scale":{"type":"linear","domain":[0,4],"range":[0,117.5],"zero":true}}}},
{"data":{"name":"levels"},"mark":{"type":"rule","color":"#222","strokeWidth":1.1},"encoding":{"x2":{"field":"x2"}}},
{"data":{"name":"angles"},"transform":[{"filter":"datum.set!='clip'"}],"mark":{"type":"text","style":"angle"},"encoding":{"text":{"field":"text"}}},
{"data":{"name":"p4"},"transform":[{"filter":"datum.role=='level'"}],"mark":{"type":"text","style":"level"},"encoding":{"text":{"field":"text"}}},
{"data":{"name":"p4"},"transform":[{"filter":"datum.role=='solid'"}],"mark":{"type":"line","color":"#f26b3a","strokeWidth":3,"interpolate":"cardinal","strokeCap":"round"},"encoding":{"detail":{"field":"s"},"order":{"field":"i"}}},
{"data":{"name":"p4"},"transform":[{"filter":"datum.role=='head'"}],"mark":{"type":"text","style":"head"},"encoding":{"text":{"field":"text"}}},
{"data":{"name":"p4"},"transform":[{"filter":"datum.role=='label'"}],"mark":{"type":"text","style":"label"},"encoding":{"text":{"field":"text"}}},
{"data":{"name":"p4"},"transform":[{"filter":"datum.role=='value'"}],"mark":{"type":"text","style":"value"},"encoding":{"text":{"field":"text"}}},
{"data":{"name":"p4"},"transform":[{"filter":"datum.role=='legend'"}],"mark":{"type":"text","style":"legendtext"},"encoding":{"text":{"field":"text"}}},
{"data":{"name":"p4"},"transform":[{"filter":"datum.role=='sym'"}],"mark":{"type":"text","style":"symtext"},"encoding":{"text":{"field":"text"}}},
{"data":{"name":"p4"},"transform":[{"filter":"datum.role=='r0'"}],"mark":{"type":"rule","color":"#111","strokeWidth":2,"strokeDash":[11,11.5]},"encoding":{"x2":{"field":"x2"},"y2":{"field":"y2"}}},
{"data":{"name":"p4"},"transform":[{"filter":"datum.role=='r90'"}],"mark":{"type":"rule","color":"#111","strokeWidth":2},"encoding":{"x2":{"field":"x2"},"y2":{"field":"y2"}}},
{"data":{"name":"p4"},"transform":[{"filter":"datum.role=='cross'"}],"mark":{"type":"rule","color":"#444","strokeWidth":1},"encoding":{"x2":{"field":"x2"},"y2":{"field":"y2"}}},
{"data":{"name":"p4"},"transform":[{"filter":"datum.role=='box'"}],"mark":{"type":"rect","fillOpacity":0,"stroke":"#333","strokeWidth":1},"encoding":{"x2":{"field":"x2"},"y2":{"field":"y2"}}}]}]}]},
{"spacing":16,"hconcat":[
{"width":696,"height":318,"encoding":{"x":{"field":"x","type":"quantitative","axis":null,"scale":{"domain":[-173,523],"nice":false,"zero":false}},"y":{"field":"y","type":"quantitative","axis":null,"scale":{"domain":[152,-166],"nice":false,"zero":false}}},"layer":[
{"data":{"name":"rings"},"mark":{"type":"arc","filled":false,"color":"#222","strokeWidth":1},"encoding":{"theta":{"field":"a","type":"quantitative","stack":null,"scale":{"domain":[-180,180],"range":[6.283185,0]}},"theta2":{"field":"a2"},"radius":{"field":"r","type":"quantitative","scale":{"type":"linear","domain":[0,4],"range":[0,117.5],"zero":true}}}},
{"data":{"name":"spokes"},"mark":{"type":"arc","filled":false,"color":"#000","strokeWidth":1.2,"strokeJoin":"round"},"encoding":{"theta":{"field":"a","type":"quantitative","stack":null,"scale":{"domain":[-180,180],"range":[6.283185,0]}},"theta2":{"field":"a2"},"radius":{"field":"r","type":"quantitative","scale":{"type":"linear","domain":[0,4],"range":[0,117.5],"zero":true}}}},
{"data":{"name":"levels"},"mark":{"type":"rule","color":"#222","strokeWidth":1.1},"encoding":{"x2":{"field":"x2"}}},
{"data":{"name":"angles"},"transform":[{"filter":"datum.set!='clip'"}],"mark":{"type":"text","style":"angle"},"encoding":{"text":{"field":"text"}}},
{"data":{"name":"p5"},"transform":[{"filter":"datum.role=='level'"}],"mark":{"type":"text","style":"level"},"encoding":{"text":{"field":"text"}}},
{"data":{"name":"p5"},"transform":[{"filter":"datum.role=='solid'"}],"mark":{"type":"line","color":"#f26b3a","strokeWidth":3,"interpolate":"cardinal","strokeCap":"round"},"encoding":{"detail":{"field":"s"},"order":{"field":"i"}}},
{"data":{"name":"p5"},"transform":[{"filter":"datum.role=='dash'"}],"mark":{"type":"line","color":"#f26b3a","strokeWidth":3,"interpolate":"cardinal","strokeCap":"round"},"encoding":{"detail":{"field":"s"},"order":{"field":"i"}}},
{"data":{"name":"p5"},"transform":[{"filter":"datum.role=='head'"}],"mark":{"type":"text","style":"head"},"encoding":{"text":{"field":"text"}}},
{"data":{"name":"p5"},"transform":[{"filter":"datum.role=='label'"}],"mark":{"type":"text","style":"label"},"encoding":{"text":{"field":"text"}}},
{"data":{"name":"p5"},"transform":[{"filter":"datum.role=='value'"}],"mark":{"type":"text","style":"value"},"encoding":{"text":{"field":"text"}}},
{"data":{"name":"p5"},"transform":[{"filter":"datum.role=='legend'"}],"mark":{"type":"text","style":"legendtext"},"encoding":{"text":{"field":"text"}}},
{"data":{"name":"p5"},"transform":[{"filter":"datum.role=='sym'"}],"mark":{"type":"text","style":"symtext"},"encoding":{"text":{"field":"text"}}},
{"data":{"name":"p5"},"transform":[{"filter":"datum.role=='r0'"}],"mark":{"type":"rule","color":"#111","strokeWidth":2,"strokeDash":[11,11.5]},"encoding":{"x2":{"field":"x2"},"y2":{"field":"y2"}}},
{"data":{"name":"p5"},"transform":[{"filter":"datum.role=='r90'"}],"mark":{"type":"rule","color":"#111","strokeWidth":2},"encoding":{"x2":{"field":"x2"},"y2":{"field":"y2"}}},
{"data":{"name":"p5"},"transform":[{"filter":"datum.role=='cross'"}],"mark":{"type":"rule","color":"#444","strokeWidth":1},"encoding":{"x2":{"field":"x2"},"y2":{"field":"y2"}}},
{"data":{"name":"p5"},"transform":[{"filter":"datum.role=='box'"}],"mark":{"type":"rect","fillOpacity":0,"stroke":"#333","strokeWidth":1},"encoding":{"x2":{"field":"x2"},"y2":{"field":"y2"}}}]},
{"width":680,"height":318,"encoding":{"x":{"field":"x","type":"quantitative","axis":null,"scale":{"domain":[-174,506],"nice":false,"zero":false}},"y":{"field":"y","type":"quantitative","axis":null,"scale":{"domain":[152,-166],"nice":false,"zero":false}}},"layer":[
{"data":{"name":"rings"},"mark":{"type":"arc","filled":false,"color":"#222","strokeWidth":1},"encoding":{"theta":{"field":"a","type":"quantitative","stack":null,"scale":{"domain":[-180,180],"range":[6.283185,0]}},"theta2":{"field":"a2"},"radius":{"field":"r","type":"quantitative","scale":{"type":"linear","domain":[0,4],"range":[0,117.5],"zero":true}}}},
{"data":{"name":"spokes"},"mark":{"type":"arc","filled":false,"color":"#000","strokeWidth":1.2,"strokeJoin":"round"},"encoding":{"theta":{"field":"a","type":"quantitative","stack":null,"scale":{"domain":[-180,180],"range":[6.283185,0]}},"theta2":{"field":"a2"},"radius":{"field":"r","type":"quantitative","scale":{"type":"linear","domain":[0,4],"range":[0,117.5],"zero":true}}}},
{"data":{"name":"levels"},"mark":{"type":"rule","color":"#222","strokeWidth":1.1},"encoding":{"x2":{"field":"x2"}}},
{"data":{"name":"angles"},"transform":[{"filter":"datum.set!='clip'"}],"mark":{"type":"text","style":"angle"},"encoding":{"text":{"field":"text"}}},
{"data":{"name":"p6"},"transform":[{"filter":"datum.role=='level'"}],"mark":{"type":"text","style":"level"},"encoding":{"text":{"field":"text"}}},
{"data":{"name":"p6"},"transform":[{"filter":"datum.role=='solid'"}],"mark":{"type":"line","color":"#f26b3a","strokeWidth":3,"interpolate":"cardinal","strokeCap":"round"},"encoding":{"detail":{"field":"s"},"order":{"field":"i"}}},
{"data":{"name":"p6"},"transform":[{"filter":"datum.role=='head'"}],"mark":{"type":"text","style":"head"},"encoding":{"text":{"field":"text"}}},
{"data":{"name":"p6"},"transform":[{"filter":"datum.role=='label'"}],"mark":{"type":"text","style":"label"},"encoding":{"text":{"field":"text"}}},
{"data":{"name":"p6"},"transform":[{"filter":"datum.role=='value'"}],"mark":{"type":"text","style":"value"},"encoding":{"text":{"field":"text"}}},
{"data":{"name":"p6"},"transform":[{"filter":"datum.role=='legend'"}],"mark":{"type":"text","style":"legendtext"},"encoding":{"text":{"field":"text"}}},
{"data":{"name":"p6"},"transform":[{"filter":"datum.role=='sym'"}],"mark":{"type":"text","style":"symtext"},"encoding":{"text":{"field":"text"}}},
{"data":{"name":"p6"},"transform":[{"filter":"datum.role=='r0'"}],"mark":{"type":"rule","color":"#111","strokeWidth":2,"strokeDash":[11,11.5]},"encoding":{"x2":{"field":"x2"},"y2":{"field":"y2"}}},
{"data":{"name":"p6"},"transform":[{"filter":"datum.role=='r90'"}],"mark":{"type":"rule","color":"#111","strokeWidth":2},"encoding":{"x2":{"field":"x2"},"y2":{"field":"y2"}}},
{"data":{"name":"p6"},"transform":[{"filter":"datum.role=='cross'"}],"mark":{"type":"rule","color":"#444","strokeWidth":1},"encoding":{"x2":{"field":"x2"},"y2":{"field":"y2"}}},
{"data":{"name":"p6"},"transform":[{"filter":"datum.role=='box'"}],"mark":{"type":"rect","fillOpacity":0,"stroke":"#333","strokeWidth":1},"encoding":{"x2":{"field":"x2"},"y2":{"field":"y2"}}}]}]}],
"spacing":15}
